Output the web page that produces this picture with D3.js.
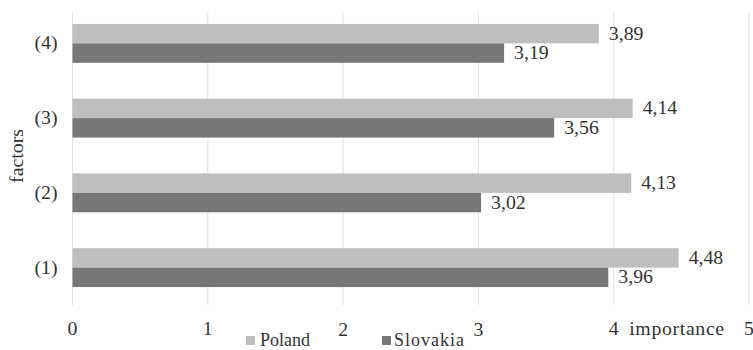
<!DOCTYPE html>
<html lang="en">
<head>
    <meta charset="UTF-8">
    <title>Factors importance</title>
    <script src="https://d3js.org/d3.v7.min.js"></script>
    <style>
        body { margin: 0; background: #fff; }
    </style>
</head>
<body>
<div id="chart"></div>
<script>
var factors = ["(4)", "(3)", "(2)", "(1)"];
var seriesNames = ["Poland", "Slovakia"];
var poland = [3.89, 4.14, 4.13, 4.48];
var slovakia = [3.19, 3.56, 3.02, 3.96];
var xTicks = [0, 1, 2, 3, 4, 5];
var colors = { "Poland": "#bebec1", "Slovakia": "#77777a" };

var width = 753, height = 350;
var fs = 18, stretch = 1.1;
var svg = d3.select("#chart").append("svg")
    .attr("width", width)
    .attr("height", height)
    .style("font-family", "'Liberation Serif', 'DejaVu Serif', 'Times New Roman', serif");

// the source text is a little wider than plain Times, so stretch it
function place(x, y) {
    return `translate(${x},${y}) scale(${stretch},1)`;
}

var x = d3.scaleLinear().domain([0, 5]).range([72.5, 749]);
var y = d3.scaleBand().domain(factors).range([6, 305]).paddingInner(0.48).paddingOuter(0.24);
var ySub = d3.scaleBand().domain(seriesNames).range([0, y.bandwidth()]);

// gridlines
svg.append("g")
    .selectAll("line")
    .data(xTicks)
    .enter().append("line")
    .attr("x1", d => x(d)).attr("x2", d => x(d))
    .attr("y1", 12.5).attr("y2", 305)
    .attr("stroke", "#e0e0e0")
    .attr("stroke-width", 1);

// x tick labels
svg.append("g")
    .selectAll("text")
    .data(xTicks)
    .enter().append("text")
    .attr("transform", d => place(x(d), d == 2 || d == 3 ? 336 : 335))
    .attr("text-anchor", "middle")
    .attr("font-size", fs)
    .attr("fill", "#333")
    .text(d => d);

var rows = factors.map((f, i) => ({ factor: f, values: [
    { name: "Poland", value: poland[i] },
    { name: "Slovakia", value: slovakia[i] }
]}));

var groups = svg.selectAll(".grp")
    .data(rows)
    .enter().append("g")
    .attr("class", "grp")
    .attr("transform", d => `translate(0,${y(d.factor)})`);

groups.selectAll("rect")
    .data(d => d.values)
    .enter().append("rect")
    .attr("x", x(0))
    .attr("y", d => ySub(d.name))
    .attr("width", d => x(d.value) - x(0))
    .attr("height", ySub.bandwidth())
    .attr("fill", d => colors[d.name]);

groups.selectAll(".val")
    .data(d => d.values)
    .enter().append("text")
    .attr("class", "val")
    .attr("transform", d => place(x(d.value) + 10, ySub(d.name) + ySub.bandwidth() / 2))
    .attr("dy", "0.33em")
    .attr("font-size", fs)
    .attr("fill", "#333")
    .text(d => d3.format(".2f")(d.value).replace(".", ","));

// category labels
svg.append("g")
    .selectAll("text")
    .data(factors)
    .enter().append("text")
    .attr("transform", d => place(46, y(d) + y.bandwidth() / 2))
    .attr("dy", "0.33em")
    .attr("text-anchor", "middle")
    .attr("font-size", fs)
    .attr("fill", "#333")
    .text(d => d);

// axis titles
svg.append("text")
    .attr("transform", `translate(23,156) rotate(-90) scale(${stretch},1)`)
    .attr("text-anchor", "middle")
    .attr("font-size", fs)
    .attr("fill", "#333")
    .text("factors");

svg.append("text")
    .attr("transform", place(677, 335))
    .attr("text-anchor", "middle")
    .attr("font-size", fs)
    .attr("letter-spacing", "0.6px")
    .attr("fill", "#333")
    .text("importance");

// legend
var legendPos = [246, 382];
var legend = svg.selectAll(".legend")
    .data(seriesNames)
    .enter().append("g")
    .attr("class", "legend")
    .attr("transform", (d, i) => `translate(${legendPos[i]},336)`);

legend.append("rect")
    .attr("width", 9).attr("height", 9)
    .attr("fill", d => colors[d]);

legend.append("text")
    .attr("transform", (d, i) => `translate(${i == 1 ? 12 : 14},10)`)
    .attr("font-size", fs)
    .attr("letter-spacing", (d, i) => i == 1 ? "1px" : "0")
    .attr("fill", "#333")
    .text(d => d);
</script>
</body>
</html>
